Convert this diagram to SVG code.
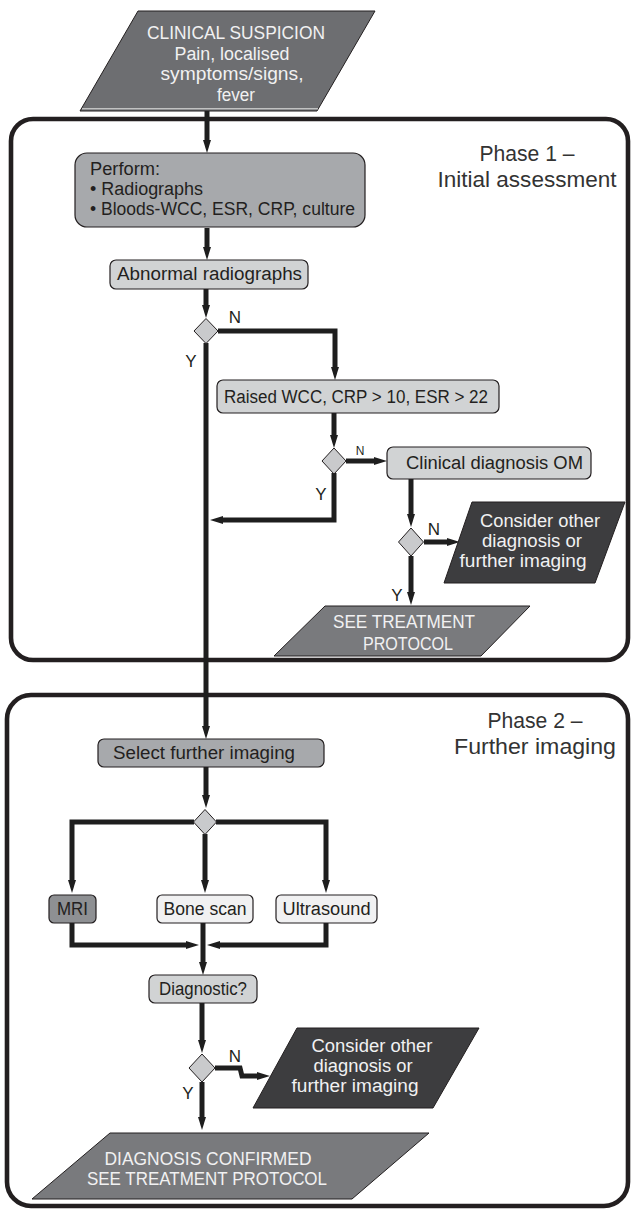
<svg xmlns="http://www.w3.org/2000/svg" width="631" height="1210" viewBox="0 0 631 1210">
<defs>
<style>
text{font-family:"Liberation Sans",Arial,sans-serif;fill:#231f20;}
.t{font-size:18px;}
.tc{font-size:18px;text-anchor:middle;}
.w{fill:#f1f1f2;}
.lbl{font-size:17px;text-anchor:middle;}
.ph{font-size:22px;text-anchor:middle;fill:#333;}
.phase{fill:none;stroke:#231f20;stroke-width:4.6;}
.box{stroke:#231f20;stroke-width:1.2;}
.dia{fill:#c9cacc;stroke:#231f20;stroke-width:1;}
.conn path{fill:none;stroke:#1e1e1e;stroke-width:5;stroke-linejoin:miter;}
.g1{fill:#a7a9ac;}
.g2{fill:#d1d3d4;}
.g3{fill:#f1f1f2;}
.g4{fill:#8e9093;}
.dk{fill:#3d3d3f;stroke:#231f20;stroke-width:1;}
.md{fill:#797a7d;stroke:#231f20;stroke-width:1;}
</style>
<marker id="ah" markerUnits="userSpaceOnUse" markerWidth="14" markerHeight="10" viewBox="0 -5 14 10" refX="0" refY="0" orient="auto">
<path d="M0,-4 L13,0 L0,4 Z" fill="#1e1e1e"/>
</marker>
</defs>
<rect width="631" height="1210" fill="#ffffff"/>

<g id="phase1">
<rect class="phase" x="11" y="119" width="617" height="541" rx="22"/>
<text class="ph" x="527" y="161" textLength="95" lengthAdjust="spacingAndGlyphs">Phase 1 –</text>
<text class="ph" x="527" y="187" textLength="179" lengthAdjust="spacingAndGlyphs">Initial assessment</text>
</g>
<g id="phase2">
<rect class="phase" x="7" y="695" width="621" height="511" rx="24"/>
<text class="ph" x="535" y="728" textLength="95" lengthAdjust="spacingAndGlyphs">Phase 2 –</text>
<text class="ph" x="535" y="754" textLength="162" lengthAdjust="spacingAndGlyphs">Further imaging</text>
</g>

<g class="conn" id="connectors">
<path d="M207,111 V140" marker-end="url(#ah)"/>
<path d="M207,228 V247" marker-end="url(#ah)"/>
<path d="M206,288 V305" marker-end="url(#ah)"/>
<path d="M218,331 H335 V367" marker-end="url(#ah)"/>
<path d="M206,343 V726" marker-end="url(#ah)"/>
<path d="M334,413 V435" marker-end="url(#ah)"/>
<path d="M346,461 H374" marker-end="url(#ah)"/>
<path d="M334,473 V520 H223" marker-end="url(#ah)"/>
<path d="M411,479 V514" marker-end="url(#ah)"/>
<path d="M424,542 H447" marker-end="url(#ah)"/>
<path d="M411,556 V592" marker-end="url(#ah)"/>
<path d="M206,767 V795" marker-end="url(#ah)"/>
<path d="M194,822 H72 V880" marker-end="url(#ah)"/>
<path d="M216,822 H326 V880" marker-end="url(#ah)"/>
<path d="M205,834 V880" marker-end="url(#ah)"/>
<path d="M72,923 V945 H186" marker-end="url(#ah)"/>
<path d="M326,923 V945 H220" marker-end="url(#ah)"/>
<path d="M203,923 V962" marker-end="url(#ah)"/>
<path d="M202,1003 V1040" marker-end="url(#ah)"/>
<path d="M215,1068 H240 L242,1076 H257" marker-end="url(#ah)"/>
<path d="M202,1082 V1117" marker-end="url(#ah)"/>
</g>

<g id="clinical-suspicion">
<polygon class="md" style="fill:#6d6e71" points="138,11 375,11 317,111 80,111"/>
<line x1="82" y1="108.8" x2="318" y2="108.8" stroke="#e6e6e6" stroke-width="1"/>
<text class="tc w" x="236" y="39" textLength="178" lengthAdjust="spacingAndGlyphs">CLINICAL SUSPICION</text>
<text class="tc w" x="232" y="60" textLength="115" lengthAdjust="spacingAndGlyphs">Pain, localised</text>
<text class="tc w" x="232" y="80" textLength="143" lengthAdjust="spacingAndGlyphs">symptoms/signs,</text>
<text class="tc w" x="236" y="101" textLength="38" lengthAdjust="spacingAndGlyphs">fever</text>
</g>

<g id="perform">
<rect class="box g1" x="75" y="153" width="290" height="74" rx="12"/>
<text class="t" x="90" y="175" textLength="70" lengthAdjust="spacingAndGlyphs">Perform:</text>
<text class="t" x="90" y="195" textLength="113" lengthAdjust="spacingAndGlyphs">• Radiographs</text>
<text class="t" x="90" y="215" textLength="265" lengthAdjust="spacingAndGlyphs">• Bloods-WCC, ESR, CRP, culture</text>
</g>

<g id="abnormal-radiographs">
<rect class="box g2" x="110" y="260" width="198" height="29" rx="6"/>
<text class="tc" x="209.5" y="280" textLength="185" lengthAdjust="spacingAndGlyphs">Abnormal radiographs</text>
</g>

<g id="decision1">
<polygon class="dia" points="206,318.5 218,331 206,343.5 194,331"/>
<text class="lbl" x="235" y="323">N</text>
<text class="lbl" x="191" y="367">Y</text>
</g>

<g id="raised">
<rect class="box g2" x="217" y="380" width="282" height="33" rx="6"/>
<text class="tc" x="356" y="403" textLength="264" lengthAdjust="spacingAndGlyphs">Raised WCC, CRP &gt; 10, ESR &gt; 22</text>
</g>

<g id="decision2">
<polygon class="dia" points="334,448 346,461 334,474 322,461"/>
<text x="360" y="455" style="font-size:12px;text-anchor:middle">N</text>
<text class="lbl" x="321" y="500">Y</text>
</g>

<g id="clinical-diagnosis">
<rect class="box g2" x="387" y="447" width="204" height="32" rx="6"/>
<text class="tc" x="494.5" y="469" textLength="177" lengthAdjust="spacingAndGlyphs">Clinical diagnosis OM</text>
</g>

<g id="decision3">
<polygon class="dia" points="411,528 423.5,542 411,556 398.5,542"/>
<text class="lbl" x="434" y="535">N</text>
<text class="lbl" x="397" y="601">Y</text>
</g>

<g id="consider1">
<polygon class="dk" points="472,502 625,502 595,583 444,583"/>
<text class="tc w" x="540" y="527" textLength="120" lengthAdjust="spacingAndGlyphs">Consider other</text>
<text class="tc w" x="532" y="547" textLength="100" lengthAdjust="spacingAndGlyphs">diagnosis or</text>
<text class="tc w" x="523" y="567" textLength="127" lengthAdjust="spacingAndGlyphs">further imaging</text>
</g>

<g id="see-treatment">
<polygon class="md" points="325,606 530,606 481,656 274,656"/>
<text class="tc w" x="404" y="628" textLength="142" lengthAdjust="spacingAndGlyphs">SEE TREATMENT</text>
<text class="tc w" x="408" y="650" textLength="90" lengthAdjust="spacingAndGlyphs">PROTOCOL</text>
</g>

<g id="select-imaging">
<rect class="box g1" x="98" y="739" width="226" height="28" rx="6"/>
<text class="tc" x="204" y="759" textLength="182" lengthAdjust="spacingAndGlyphs">Select further imaging</text>
</g>

<g id="decision4">
<polygon class="dia" points="205,809.5 216.5,822 205,834.5 193.5,822"/>
</g>

<g id="mri">
<rect class="box g4" x="49" y="895" width="47" height="28" rx="5"/>
<text class="tc" x="72.5" y="915" textLength="31" lengthAdjust="spacingAndGlyphs">MRI</text>
</g>

<g id="bone-scan">
<rect class="box g3" x="157" y="895" width="96" height="28" rx="5"/>
<text class="tc" x="205" y="915" textLength="83" lengthAdjust="spacingAndGlyphs">Bone scan</text>
</g>

<g id="ultrasound">
<rect class="box g3" x="276" y="895" width="101" height="28" rx="5"/>
<text class="tc" x="326.5" y="915" textLength="88" lengthAdjust="spacingAndGlyphs">Ultrasound</text>
</g>

<g id="diagnostic">
<rect class="box g2" x="149" y="975" width="108" height="28" rx="6"/>
<text class="tc" x="203" y="995" textLength="88" lengthAdjust="spacingAndGlyphs">Diagnostic?</text>
</g>

<g id="decision5">
<polygon class="dia" points="202,1054 215,1068 202,1082 189,1068"/>
<text class="lbl" x="235" y="1062">N</text>
<text class="lbl" x="188" y="1099">Y</text>
</g>

<g id="consider2">
<polygon class="dk" points="297,1028 479,1028 433,1108 253,1108"/>
<text class="tc w" x="372" y="1052" textLength="121" lengthAdjust="spacingAndGlyphs">Consider other</text>
<text class="tc w" x="363" y="1072" textLength="99" lengthAdjust="spacingAndGlyphs">diagnosis or</text>
<text class="tc w" x="355" y="1092" textLength="127" lengthAdjust="spacingAndGlyphs">further imaging</text>
</g>

<g id="diagnosis-confirmed">
<polygon class="md" points="110,1133 429,1133 352,1199 32,1199"/>
<text class="tc w" x="208" y="1165" textLength="207" lengthAdjust="spacingAndGlyphs">DIAGNOSIS CONFIRMED</text>
<text class="tc w" x="207" y="1185" textLength="240" lengthAdjust="spacingAndGlyphs">SEE TREATMENT PROTOCOL</text>
</g>
</svg>
